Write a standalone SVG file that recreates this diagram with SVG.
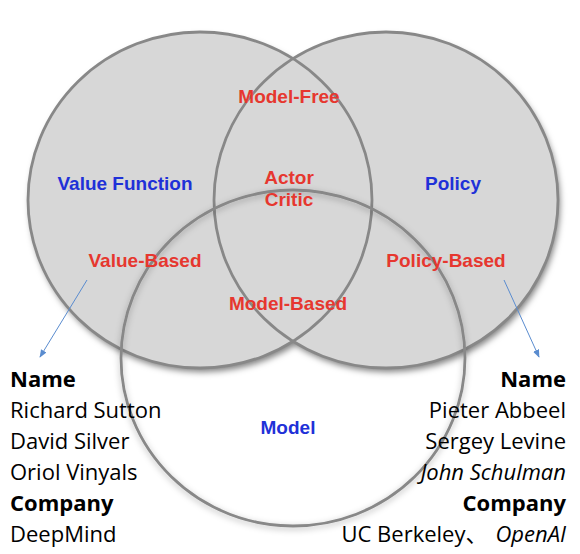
<svg xmlns="http://www.w3.org/2000/svg" width="580" height="554" viewBox="0 0 580 554">
<defs>
<style>
.lbl{font-family:"Liberation Sans",Arial,sans-serif;font-weight:bold;font-size:19px;text-anchor:middle}
.red{fill:#e6372f}
.blue{fill:#1f31d8}
.txt{font-family:"Open Sans","Noto Sans CJK SC",sans-serif;font-size:22px;fill:#000}
.b{font-weight:bold}
.i{font-style:italic}
.ring{fill:none;stroke:#888;stroke-width:2.8}
.arr{stroke:#5a8ccf;stroke-width:1;fill:none;marker-end:url(#ah)}
</style>
<filter id="sh" x="-20%" y="-20%" width="140%" height="140%">
<feDropShadow dx="2" dy="4" stdDeviation="3" flood-color="#000" flood-opacity="0.5"/>
</filter>
<filter id="sh2" x="-20%" y="-20%" width="140%" height="140%">
<feDropShadow dx="0" dy="2" stdDeviation="3" flood-color="#000" flood-opacity="0.3"/>
</filter>
<marker id="ah" viewBox="0 0 10 10" refX="9" refY="5" markerWidth="8" markerHeight="8" orient="auto" markerUnits="userSpaceOnUse">
<path d="M0,1 L10,5 L0,9 Z" fill="#5a8ccf"/>
</marker>
</defs>
<rect width="580" height="554" fill="#fff"/>
<g id="fills" filter="url(#sh)">
<ellipse cx="200" cy="200" rx="172" ry="168" fill="#d7d7d7"/>
<ellipse cx="386" cy="200" rx="172" ry="168" fill="#d7d7d7"/>
</g>
<g id="value-function">
<ellipse class="ring" cx="200" cy="200" rx="172" ry="168"/>
<text class="lbl blue" x="125" y="190">Value Function</text>
</g>
<g id="policy">
<ellipse class="ring" cx="386" cy="200" rx="172" ry="168"/>
<text class="lbl blue" x="453" y="190">Policy</text>
</g>
<g id="model">
<ellipse class="ring" cx="293" cy="358" rx="172" ry="168" filter="url(#sh2)" stroke="#999" stroke-width="2.4"/>
<text class="lbl blue" x="288" y="434">Model</text>
</g>
<g id="model-free"><text class="lbl red" x="289" y="103">Model-Free</text></g>
<g id="actor-critic"><text class="lbl red" x="289" y="184">Actor</text><text class="lbl red" x="289" y="206">Critic</text></g>
<g id="value-based"><text class="lbl red" x="145" y="267">Value-Based</text></g>
<g id="policy-based"><text class="lbl red" x="446" y="267">Policy-Based</text></g>
<g id="model-based"><text class="lbl red" x="288" y="310">Model-Based</text></g>
<g id="connectors">
<line class="arr" x1="87" y1="280" x2="40" y2="357"/>
<line class="arr" x1="504" y1="280" x2="539" y2="357"/>
</g>
<g id="left-list" class="txt">
<text x="10" y="387" class="b">Name</text>
<text x="10" y="418">Richard Sutton</text>
<text x="10" y="449">David Silver</text>
<text x="10" y="480">Oriol Vinyals</text>
<text x="10" y="511" class="b">Company</text>
<text x="10" y="542">DeepMind</text>
</g>
<g id="right-list" class="txt" text-anchor="end">
<text x="566" y="387" class="b">Name</text>
<text x="566" y="418">Pieter Abbeel</text>
<text x="566" y="449">Sergey Levine</text>
<text x="566" y="480" class="i">John Schulman</text>
<text x="566" y="511" class="b">Company</text>
<text x="566" y="542">UC Berkeley、<tspan class="i" dx="8">OpenAI</tspan></text>
</g>
</svg>
